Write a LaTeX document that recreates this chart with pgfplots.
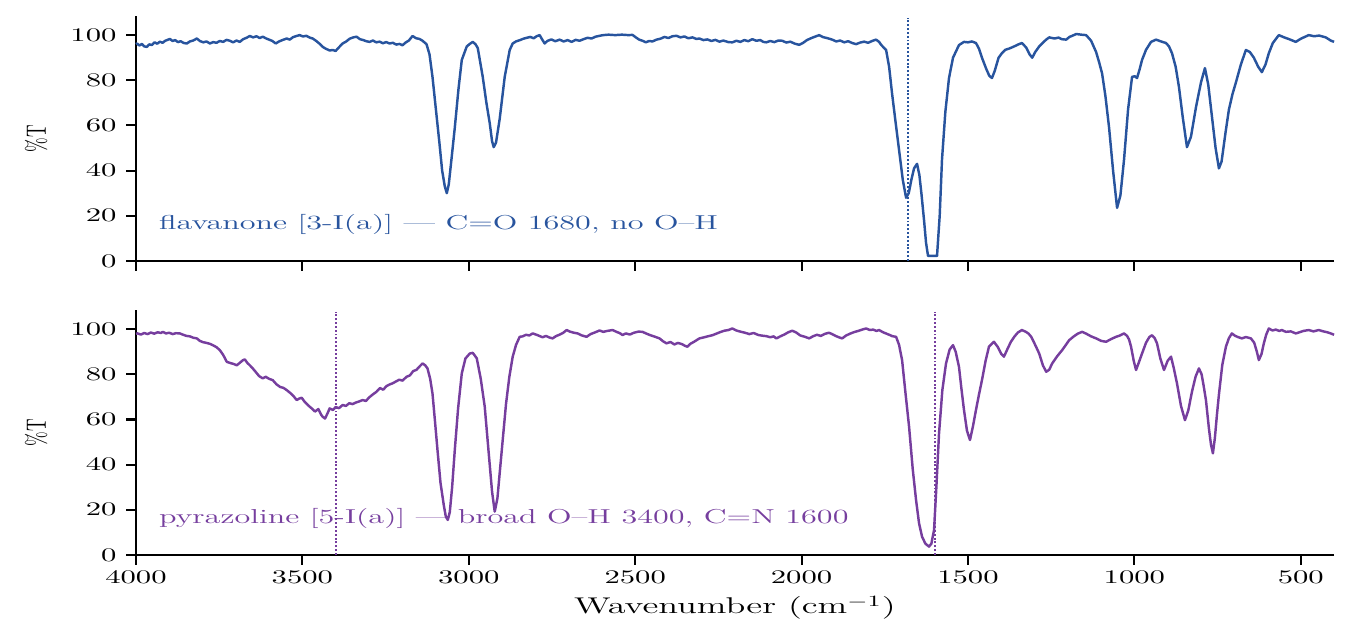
\documentclass[border=0pt]{standalone}
\usepackage{pgfplots}
\pgfplotsset{compat=1.18}
\usepackage{pgfplotstable}
\definecolor{irblue}{RGB}{40,84,158}
\definecolor{irpurple}{RGB}{118,62,158}

\pgfplotstableread{
wn T
4000 96.0
3997 96.3
3990 95.4
3982 96.1
3975 95.0
3967 94.8
3960 95.9
3952 95.6
3944 96.8
3936 96.2
3928 97.1
3920 96.6
3912 97.5
3905 97.9
3898 98.3
3890 97.4
3882 97.8
3874 96.9
3866 97.3
3856 96.5
3847 96.3
3838 97.2
3828 97.6
3817 98.5
3808 97.4
3798 96.8
3788 97.2
3778 96.3
3768 96.9
3758 96.6
3748 97.4
3738 97.0
3728 97.9
3718 97.5
3708 96.8
3698 97.6
3688 97.0
3678 98.2
3668 98.8
3658 99.6
3648 99.0
3638 99.5
3628 98.7
3619 99.3
3610 98.6
3600 98.0
3590 97.4
3580 96.3
3570 97.2
3560 97.8
3547 98.5
3538 98.0
3528 99.1
3518 99.6
3508 100.0
3498 99.4
3488 99.7
3478 98.9
3469 98.5
3460 97.6
3450 96.4
3439 94.8
3430 94.0
3418 93.2
3409 93.4
3400 93.0
3390 94.6
3379 96.3
3368 97.2
3358 98.4
3347 99.0
3337 99.3
3327 98.2
3317 97.8
3308 97.3
3298 97.0
3288 97.6
3278 96.8
3268 97.1
3258 96.4
3248 96.9
3238 96.3
3228 96.6
3218 95.8
3208 96.1
3199 95.5
3190 96.7
3180 97.6
3169 99.6
3158 98.6
3148 98.3
3139 97.5
3127 96.0
3118 91.5
3109 81.5
3098 66
3088 52
3080 40
3072 33
3066 30
3060 34
3052 45
3042 59
3031 76
3021 89
3006 95
2996 96.2
2988 97
2980 96.0
2973 94.3
2958 81.5
2947 70
2937 61
2930 53
2925 50.4
2918 52.5
2907 63
2892 81.5
2877 93.4
2868 96.3
2858 97.2
2846 97.8
2836 98.4
2826 98.8
2815 99.2
2805 98.6
2796 99.5
2787 100.0
2780 98.2
2772 96.3
2764 97.4
2752 98.1
2740 97.3
2727 98.0
2715 97.2
2703 97.8
2691 97.0
2679 97.9
2667 97.5
2655 98.2
2643 98.8
2631 98.5
2619 99.3
2607 99.7
2596 100.0
2580 100.2
2560 100.0
2540 100.2
2520 100.0
2508 100.1
2498 99.0
2488 98.0
2478 97.5
2468 96.8
2458 97.4
2448 97.2
2436 98.0
2424 98.4
2412 99.2
2400 98.7
2388 99.5
2376 99.7
2364 99.0
2352 99.4
2340 98.6
2328 99.0
2316 98.3
2307 98.5
2295 97.8
2283 98.1
2271 97.4
2259 97.9
2247 97.1
2235 97.6
2220 96.9
2208 96.8
2196 97.5
2184 97.0
2172 97.8
2160 97.3
2148 98.2
2136 97.5
2124 97.8
2115 97.0
2106 96.8
2094 97.4
2082 96.9
2070 97.6
2058 97.5
2046 96.7
2034 97.1
2020 96.2
2007 95.7
1996 96.5
1984 97.8
1972 98.6
1960 99.3
1947 100.0
1935 99.1
1921 98.6
1908 98.0
1896 97.2
1884 97.6
1872 96.8
1860 97.3
1848 96.5
1836 96.0
1824 96.7
1812 97.1
1800 96.6
1788 97.4
1776 98.0
1767 97.0
1761 95.7
1746 93.4
1737 86
1728 74
1718 62
1707 49
1696 36
1686 28
1678 30
1670 36
1662 41
1653 43
1646 38
1640 30
1632 18
1626 8
1620 2.2
1593 2.2
1585 20
1578 45
1568 66
1557 81
1545 90
1527 95.6
1512 97.0
1500 96.8
1488 97.2
1476 96.5
1467 94
1458 90
1445 85
1436 82
1428 81
1420 84
1408 90
1398 92
1388 93.5
1377 94
1364 94.8
1350 95.8
1338 96.5
1325 94.5
1315 91.5
1307 90
1298 92.5
1286 95
1274 96.8
1265 98
1256 99
1240 98.5
1228 98.9
1218 98.2
1205 98
1195 99.2
1185 99.8
1175 100.5
1160 100.2
1145 100
1130 97.5
1115 92.5
1106 88
1097 83
1087 73
1076 59
1064 40
1052 23.5
1042 29
1031 45
1019 67
1007 81.5
999 81.8
992 81
984 85
977 89
965 93.5
950 97
935 98
920 97.2
905 96.5
896 95
887 92
876 86
866 77
855 64
842 50.4
830 55
815 68
800 79
788 85.4
778 78
767 64
756 50
746 41
738 44
726 57
716 67
705 74
695 79
680 87
665 93.4
653 92.5
641 90
628 86
617 83.6
606 87
596 92
584 96.5
566 100
550 99
535 98.2
515 97
500 98.4
488 99.2
476 100
460 99.5
445 99.8
425 99
410 97.6
400 97
}\flav

\pgfplotstableread{
wn T
4000 98.0
3995 98.1
3985 97.6
3975 98.3
3965 97.8
3955 98.5
3945 98.0
3935 98.6
3925 98.3
3919 98.8
3910 98.1
3900 98.4
3890 97.8
3880 98.2
3868 98.1
3858 97.5
3848 97.0
3838 96.8
3828 96.2
3817 95.9
3808 94.8
3798 94.2
3788 93.9
3778 93.5
3769 92.9
3758 92.0
3748 90.7
3738 88.6
3727 85.5
3717 85.0
3707 84.6
3697 84.0
3687 85.2
3679 86.2
3673 86.6
3665 85.0
3658 84.0
3649 82.6
3640 81.0
3630 79.2
3619 78.2
3610 78.9
3600 78.0
3589 77.4
3578 75.6
3567 74.4
3557 74.0
3547 73.0
3537 71.8
3527 70.4
3517 68.6
3510 69.2
3502 69.6
3494 68.0
3483 66.3
3472 64.9
3462 63.5
3452 64.6
3444 62.2
3439 61.2
3432 60.4
3425 62.5
3418 64.9
3408 64.2
3400 65.5
3390 65.0
3379 66.4
3369 66.0
3359 67.2
3349 66.8
3339 67.5
3329 68.0
3319 68.6
3309 68.2
3299 69.8
3289 71.0
3277 72.3
3267 73.9
3257 73.2
3247 74.8
3238 75.5
3229 76.0
3219 76.8
3209 77.6
3199 77.2
3187 78.9
3177 79.5
3167 81.4
3157 82.0
3147 83.6
3139 84.8
3131 84.0
3124 82.6
3116 78
3109 71.5
3102 60
3094 46.5
3085 32
3075 22
3069 17
3063 15.5
3057 19
3050 30
3042 46.5
3032 65
3021 80.4
3010 87
2997 89.2
2988 89.5
2976 87.1
2964 78
2952 65.6
2940 45
2930 28
2922 19.2
2914 25
2906 38
2898 50.9
2888 67
2878 79
2868 87.8
2858 93
2847 96.6
2838 96.8
2828 97.5
2818 97.2
2808 98.1
2798 97.6
2788 97.0
2778 96.4
2768 97.0
2758 96.3
2748 95.9
2738 96.9
2728 97.5
2716 98.4
2706 99.6
2696 98.9
2684 98.4
2673 98.1
2660 97.2
2646 96.6
2634 97.8
2620 98.6
2607 99.4
2596 98.8
2584 99.2
2568 99.6
2556 98.8
2546 98.2
2538 97.4
2528 98.1
2516 97.6
2504 98.4
2490 98.9
2478 98.8
2466 98.0
2454 97.3
2440 96.6
2427 95.9
2416 94.6
2406 93.7
2394 94.3
2382 93.2
2372 93.9
2360 93.4
2350 92.6
2343 92.2
2334 93.5
2322 94.5
2307 95.9
2295 96.3
2282 96.8
2268 97.3
2256 98.0
2244 98.7
2232 99.3
2220 99.6
2208 100.3
2196 99.4
2184 98.9
2170 98.4
2157 97.8
2144 98.3
2130 97.4
2118 97.1
2106 96.9
2094 96.4
2084 96.8
2076 95.9
2064 96.8
2052 97.6
2040 98.6
2028 99.3
2016 98.5
2004 97.2
1990 96.6
1977 95.9
1966 96.8
1954 97.5
1942 97.0
1930 97.9
1918 98.4
1908 97.8
1898 97.0
1888 96.4
1878 95.9
1866 97.2
1854 98.0
1842 98.7
1830 99.2
1818 99.8
1806 100.3
1795 99.6
1785 99.8
1775 99.2
1767 99.6
1755 98.6
1745 98.0
1735 97.4
1728 96.9
1716 96.6
1707 93
1698 86.3
1688 72
1677 56.8
1666 38
1656 24.3
1647 14
1638 8.1
1628 5
1617 3.7
1610 5
1602 11
1595 30
1587 53.8
1577 73
1566 84.8
1555 91
1545 92.9
1537 90
1527 83.3
1520 74
1512 64.2
1503 55
1494 50.9
1485 57
1476 64.2
1467 71
1458 77.4
1447 86
1437 92.2
1422 94.4
1410 92
1400 89
1392 87.8
1382 91
1371 94.4
1360 96.8
1350 98.5
1338 99.6
1326 98.8
1318 98
1310 96.6
1298 93
1286 89.2
1275 84
1265 81.1
1256 82
1247 84.8
1232 88
1217 90.7
1206 93
1196 95.1
1182 96.8
1170 98
1157 98.8
1145 98
1130 96.8
1115 95.9
1100 94.8
1085 94.4
1070 95.6
1055 96.6
1043 97.2
1031 98.1
1022 97
1016 95.4
1010 92.2
1002 86
995 81.9
986 85.5
977 89.2
965 94
955 96.5
947 97.3
939 96
932 93.7
922 87
911 81.9
900 86
890 87.8
882 83
872 76
860 66
848 59.7
838 64
827 72.3
816 79
806 82.6
798 80
792 75
785 68.6
776 56
770 49
764 45
758 52
752 62
746 71
736 84
725 92.2
716 96
707 98.1
697 97
687 96.4
677 95.9
665 96.5
650 95.9
640 94
632 90
626 86.3
618 89
611 93.7
604 97.5
596 100.3
585 99.4
575 99.8
565 99.2
557 99.6
545 98.8
530 99.0
515 98.1
504 98.6
492 99.2
476 99.6
462 99.0
446 99.6
432 99.0
420 98.6
410 98.1
400 97.5
}\pyra

\pgfplotsset{
  irpanel/.style={
    scale only axis,
    width=684.6pt, height=140pt,
    xmin=400, xmax=4000, x dir=reverse,
    ymin=0, ymax=108.5,
    axis lines*=left,
    axis line style={line width=1.25pt},
    tick align=outside,
    major tick length=5.5pt,
    tick style={line width=1.2pt, black},
    xtick={500,1000,...,4000},
    ytick={0,20,...,100},
    every tick label/.append style={font=\fontsize{10.5}{12}\selectfont, xscale=1.6},
    scaled x ticks=false,
    xticklabel style={/pgf/number format/1000 sep={}},
    every axis y label/.style={at={(axis description cs:-0.0833,0.5)}, anchor=center, rotate=90, yscale=1.6, font=\fontsize{10}{11}\selectfont},
    ylabel={\%T},
    clip=false,
  },
}

\begin{document}
\begin{tikzpicture}
\useasboundingbox (-77.7pt,-46.9pt) rectangle (697.7pt,317.1pt);
\begin{axis}[irpanel, at={(0pt,168pt)}, anchor=south west, xticklabels={}]
\addplot[irblue, line width=1.4pt, line join=round] table[x=wn, y=T] {\flav};
\addplot[irblue, line width=1.2pt, dash pattern=on 1.1pt off 1.1pt] coordinates {(1680,0) (1680,107.5)};
\node[anchor=west, text=irblue, font=\fontsize{11.5}{13}\selectfont, xscale=1.6] at (axis cs:3960,16) {flavanone [3-I(a)] \textemdash\ C=O 1680, no O\textendash H};
\end{axis}
\begin{axis}[irpanel, at={(0pt,0pt)}, anchor=south west,
  xlabel={Wavenumber (cm$^{-1}$)},
  every axis x label/.style={at={(axis description cs:0.5,-0.216)}, anchor=center, xscale=1.6, font=\fontsize{13}{15}\selectfont}]
\addplot[irpurple, line width=1.4pt, line join=round] table[x=wn, y=T] {\pyra};
\addplot[irpurple, line width=1.2pt, dash pattern=on 1.1pt off 1.1pt] coordinates {(3400,0) (3400,107.5)};
\addplot[irpurple, line width=1.2pt, dash pattern=on 1.1pt off 1.1pt] coordinates {(1600,0) (1600,107.5)};
\node[anchor=west, text=irpurple, font=\fontsize{11.5}{13}\selectfont, xscale=1.6] at (axis cs:3960,16) {pyrazoline [5-I(a)] \textemdash\ broad O\textendash H 3400, C=N 1600};
\end{axis}
\end{tikzpicture}
\end{document}
